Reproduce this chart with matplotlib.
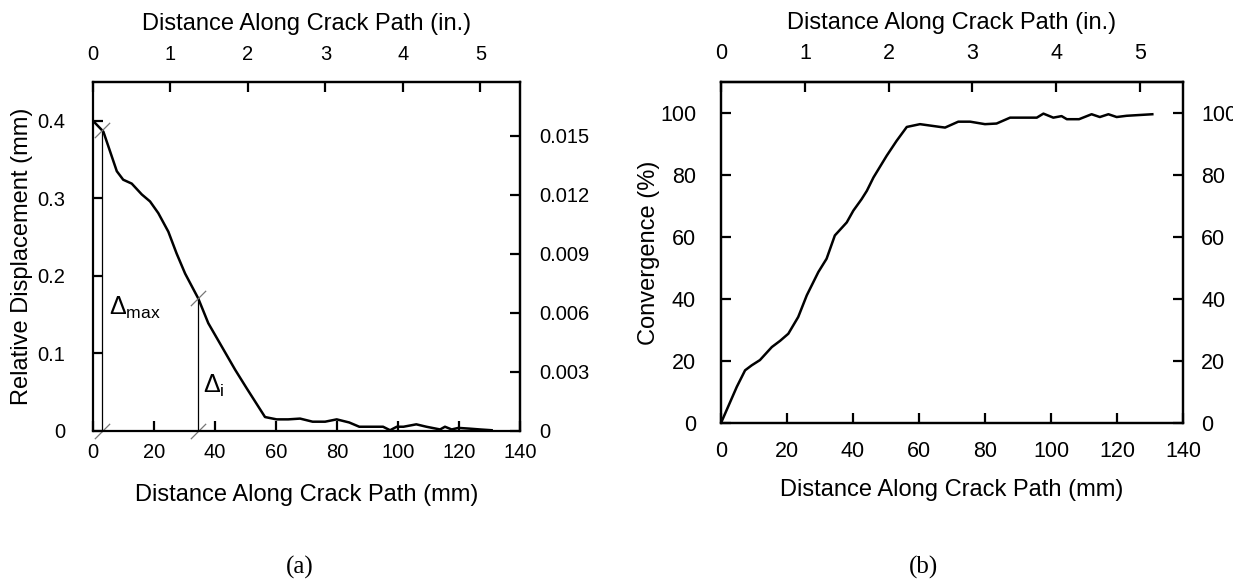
import numpy as np
import matplotlib
matplotlib.use("Agg")
import matplotlib.pyplot as plt
from matplotlib.ticker import FuncFormatter
from matplotlib.transforms import Bbox

plt.rcParams['font.family'] = ['Liberation Sans', 'DejaVu Sans']
plt.rcParams['mathtext.fontset'] = 'custom'
plt.rcParams['mathtext.rm'] = 'Liberation Sans'
plt.rcParams['mathtext.it'] = 'Liberation Sans:italic'
plt.rcParams['mathtext.default'] = 'regular'

# ---------------- data ----------------
disp_x = [0, 3.4, 7.8, 9.9, 12.7, 16, 18.7, 21.4, 24.7, 27.4, 30.2, 34.5, 37.8, 42.2,
          46.6, 50.4, 56.4, 60.2, 64, 67.9, 72, 76.1, 79.9, 84, 87.3, 95.1, 97.4, 99.6,
          101.8, 106, 109.3, 113.8, 115.4, 117.6, 119.8, 123.6, 126.9, 130.7]
disp_y = [0.400, 0.386, 0.335, 0.324, 0.319, 0.305, 0.296, 0.281, 0.257, 0.229, 0.203,
          0.171, 0.139, 0.109, 0.079, 0.055, 0.018, 0.015, 0.015, 0.016, 0.012, 0.012,
          0.015, 0.011, 0.0055, 0.0055, 0.001, 0.0055, 0.0055, 0.0086, 0.0055, 0.002,
          0.0055, 0.002, 0.004, 0.003, 0.002, 0.001]

conv_x = [0, 4.8, 7.3, 9.3, 11.8, 15.4, 17.9, 20.4, 23.4, 26, 29.5, 32, 34.5, 38.1, 40.1,
          42.6, 44.2, 46.2, 50.2, 53.2, 56.3, 60.3, 66.4, 67.9, 71.9, 75.5, 80, 83.5, 87.6,
          95.7, 97.7, 100.7, 103.2, 104.8, 108.5, 112.3, 114.8, 117.4, 119.9, 122.9, 126,
          130.7]
conv_y = [0, 11.7, 17, 18.6, 20.3, 24.5, 26.5, 28.8, 34.2, 41.2, 48.7, 53, 60.5, 64.7,
          68.5, 72.2, 74.9, 79.2, 86.2, 91, 95.5, 96.4, 95.5, 95.3, 97.2, 97.2, 96.4, 96.6,
          98.5, 98.5, 99.8, 98.5, 99, 98, 98, 99.6, 98.7, 99.6, 98.7, 99.1, 99.3, 99.6]

# annotation positions (mm along crack path)
delta_x = [3.0, 34.4]
delta_labels = [r'$\Delta_{max}$', r'$\Delta_{i}$']

mm_ticks = [0, 20, 40, 60, 80, 100, 120, 140]
in_ticks = [0, 1, 2, 3, 4, 5]
disp_ticks = [0, 0.1, 0.2, 0.3, 0.4]
disp_in_ticks = [0, 0.003, 0.006, 0.009, 0.012, 0.015]
conv_ticks = [0, 20, 40, 60, 80, 100]

xlabel_mm = 'Distance Along Crack Path (mm)'
xlabel_in = 'Distance Along Crack Path (in.)'

def mm2in(v):
    return np.asarray(v) / 25.4

def in2mm(v):
    return np.asarray(v) * 25.4

FS = 14.5     # tick labels (a)
FS2 = 15.5    # tick labels (b)
LFS = 17      # axis titles
LW = 1.6
fmt = FuncFormatter(lambda v, p: '%g' % v)

fig = plt.figure(figsize=(12.47, 5.84), dpi=100)
ax1 = fig.add_axes([93/1247, 1-431/584, 427/1247, 349/584])
ax2 = fig.add_axes([721/1247, 1-423/584, 462/1247, 341/584])

def style(ax, fs=FS):
    for s in ax.spines.values():
        s.set_linewidth(LW)
    ax.tick_params(direction='in', length=7, width=LW, labelsize=fs)

# ---------- (a) ----------
ax1.plot(disp_x, disp_y, color='black', lw=1.8)
ax1.set_xlim(0, 140)
ax1.set_ylim(0, 0.45)
ax1.set_xticks(mm_ticks)
ax1.set_yticks(disp_ticks)
ax1.yaxis.set_major_formatter(fmt)
style(ax1)
ax1.tick_params(axis='x', pad=9)
ax1.tick_params(axis='y', pad=20)
ax1.set_xlabel(xlabel_mm, fontsize=LFS)
ax1.xaxis.set_label_coords(0.5, -0.183)
ax1.xaxis.label.set_va('center')
ax1.set_ylabel('Relative Displacement (mm)', fontsize=LFS)
ax1.yaxis.set_label_coords(-0.166, 0.5)
ax1.yaxis.label.set_va('center')

top1 = ax1.secondary_xaxis('top', functions=(mm2in, in2mm))
top1.set_xticks(in_ticks)
style(top1)
top1.tick_params(pad=13)
top1.set_xlabel(xlabel_in, fontsize=LFS, labelpad=11)

right1 = ax1.secondary_yaxis('right', functions=(mm2in, in2mm))
right1.set_yticks(disp_in_ticks)
right1.yaxis.set_major_formatter(fmt)
style(right1)
right1.tick_params(pad=14)

# annotations
for xv, lab, (dx, dy) in zip(delta_x, delta_labels, [(2.3, -0.2285), (1.6, -0.114)]):
    yv = float(np.interp(xv, disp_x, disp_y))
    ax1.plot([xv, xv], [0, yv], color='black', lw=0.9)
    ax1.plot([xv, xv], [0, yv], linestyle='none', marker=[(-1, -1), (1, 1)],
             markersize=11, markeredgewidth=0.9, color='#777777', clip_on=False)
    ax1.text(xv + dx, yv + dy, lab, fontsize=18, ha='left', va='center')

# ---------- (b) ----------
ax2.plot(conv_x, conv_y, color='black', lw=1.8)
ax2.set_xlim(0, 140)
ax2.set_ylim(0, 110)
ax2.set_xticks(mm_ticks)
ax2.set_yticks(conv_ticks)
style(ax2, FS2)
ax2.tick_params(axis='x', pad=13)
ax2.tick_params(axis='y', pad=18)
ax2.set_xlabel(xlabel_mm, fontsize=LFS)
ax2.xaxis.set_label_coords(0.5, -0.196)
ax2.xaxis.label.set_va('center')
ax2.set_ylabel('Convergence (%)', fontsize=LFS)
ax2.yaxis.set_label_coords(-0.156, 0.5)
ax2.yaxis.label.set_va('center')

top2 = ax2.secondary_xaxis('top', functions=(mm2in, in2mm))
top2.set_xticks(in_ticks)
style(top2, FS2)
top2.tick_params(pad=13)
top2.set_xlabel(xlabel_in, fontsize=LFS, labelpad=10)

right2 = ax2.twinx()
right2.set_ylim(0, 110)
right2.set_yticks(conv_ticks)
style(right2, FS2)
right2.tick_params(pad=13)
# the source picture is cropped just after x = 1233 px
clip = Bbox.from_extents(0, 0, 1233, 584)
for t in right2.get_yticklabels():
    t.set_clip_box(clip)
    t.set_clip_on(True)

fig.text(300/1247, 1-567/584, '(a)', family='Liberation Serif', fontsize=18,
         ha='center', va='center')
fig.text(924/1247, 1-567/584, '(b)', family='Liberation Serif', fontsize=18,
         ha='center', va='center')

fig.savefig('out.png', dpi=100)
